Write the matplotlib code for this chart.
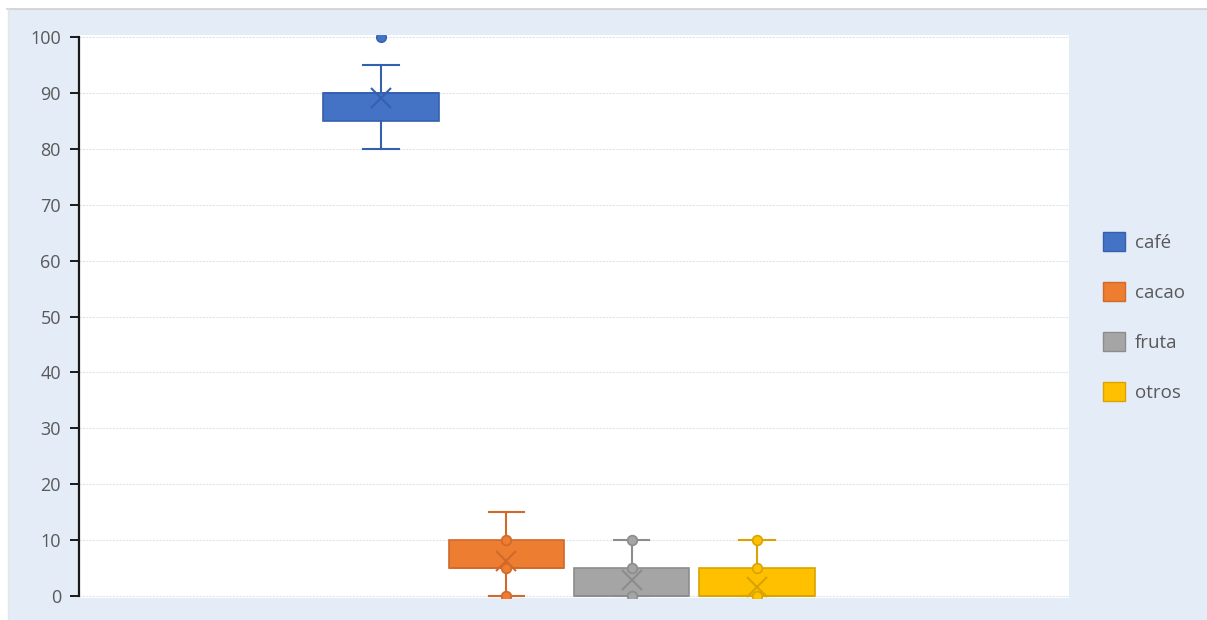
import matplotlib.pyplot as plt
from matplotlib.patches import Rectangle, Patch
from matplotlib.lines import Line2D

# Distribution summary per product
series = ["café", "cacao", "fruta", "otros"]
q1 = [85, 5, 0, 0]
median = [90, 5, 0, 0]
q3 = [90, 10, 5, 5]
whisker_low = [80, 0, 0, 0]
whisker_high = [95, 15, 10, 10]
means = [89, 6.3, 2.8, 1.6]
outliers = [[100], [], [], []]
inner_points = [[], [0, 5, 10], [0, 5, 10], [0, 5, 10]]
y_ticks = [0, 10, 20, 30, 40, 50, 60, 70, 80, 90, 100]

fill_colors = ["#4472C4", "#ED7D31", "#A5A5A5", "#FFC000"]
edge_colors = ["#3560AE", "#D0692A", "#8C8C8C", "#D9A400"]

plt.rcParams["font.family"] = ["Open Sans", "DejaVu Sans"]

fig = plt.figure(figsize=(12.07, 6.2), dpi=100)
fig.patch.set_facecolor("white")

# chart background panel
fig.patches.append(Rectangle((8 / 1207, 0), 1, 1 - 9 / 620, transform=fig.transFigure,
                             facecolor="#E3ECF7", edgecolor="none", zorder=-10))
fig.lines.append(Line2D([7 / 1207, 1], [1 - 8.5 / 620] * 2, transform=fig.transFigure,
                        color="#CFCFCF", lw=1.2))
fig.lines.append(Line2D([7.5 / 1207] * 2, [0, 1 - 8.5 / 620], transform=fig.transFigure,
                        color="#E6E6E6", lw=1.0))

ax = fig.add_axes([79 / 1207, 22 / 620, 990 / 1207, 563 / 620])
ax.set_facecolor("white")

for i, name in enumerate(series):
    stats = [dict(med=median[i], q1=q1[i], q3=q3[i], whislo=whisker_low[i],
                  whishi=whisker_high[i], mean=means[i], fliers=outliers[i], label=name)]
    ec = edge_colors[i]
    ax.bxp(stats, positions=[i], widths=0.92, capwidths=0.28, patch_artist=True,
           showmeans=True, manage_ticks=False,
           boxprops=dict(facecolor=fill_colors[i], edgecolor=ec, linewidth=1.2),
           whiskerprops=dict(color=ec, linewidth=1.5),
           capprops=dict(color=ec, linewidth=1.5),
           medianprops=dict(color=ec, linewidth=1.2),
           meanprops=dict(marker="x", markersize=14, markeredgecolor=ec,
                          markeredgewidth=1.5, linestyle="none"),
           flierprops=dict(marker="o", markersize=7, markerfacecolor=fill_colors[i],
                           markeredgecolor=ec, linestyle="none"))
    if inner_points[i]:
        ax.plot([i] * len(inner_points[i]), inner_points[i], linestyle="none",
                marker="o", markersize=7, markerfacecolor=fill_colors[i],
                markeredgecolor=ec, markeredgewidth=1.2, zorder=5)

ax.set_xlim(-2.41, 5.49)
ax.set_ylim(-0.36, 100.36)
ax.set_yticks(y_ticks)
ax.set_xticks([])
ax.yaxis.grid(True, color="#DDE5F0", linestyle=(0, (2, 1)), linewidth=0.8)
ax.set_axisbelow(True)

for side in ["top", "right", "bottom"]:
    ax.spines[side].set_visible(False)
ax.spines["left"].set_color("#1A1A1A")
ax.spines["left"].set_linewidth(1.6)
ax.spines["left"].set_bounds(0, 100)
ax.tick_params(axis="y", direction="out", length=6.5, width=1.4, color="#1A1A1A",
               labelcolor="#595959", labelsize=13, pad=6.5)

handles = [Patch(facecolor=fill_colors[i], edgecolor=edge_colors[i], linewidth=1.0)
           for i in range(len(series))]
fig.legend(handles, series, loc="center left", bbox_to_anchor=(1103 / 1207, 1 - 317 / 620),
           frameon=False, fontsize=13.5, labelcolor="#595959", handlelength=1.17,
           handleheight=1.17, handletextpad=0.53, labelspacing=1.62, borderpad=0,
           borderaxespad=0)

fig.savefig("out.png", dpi=100, facecolor=fig.get_facecolor())
